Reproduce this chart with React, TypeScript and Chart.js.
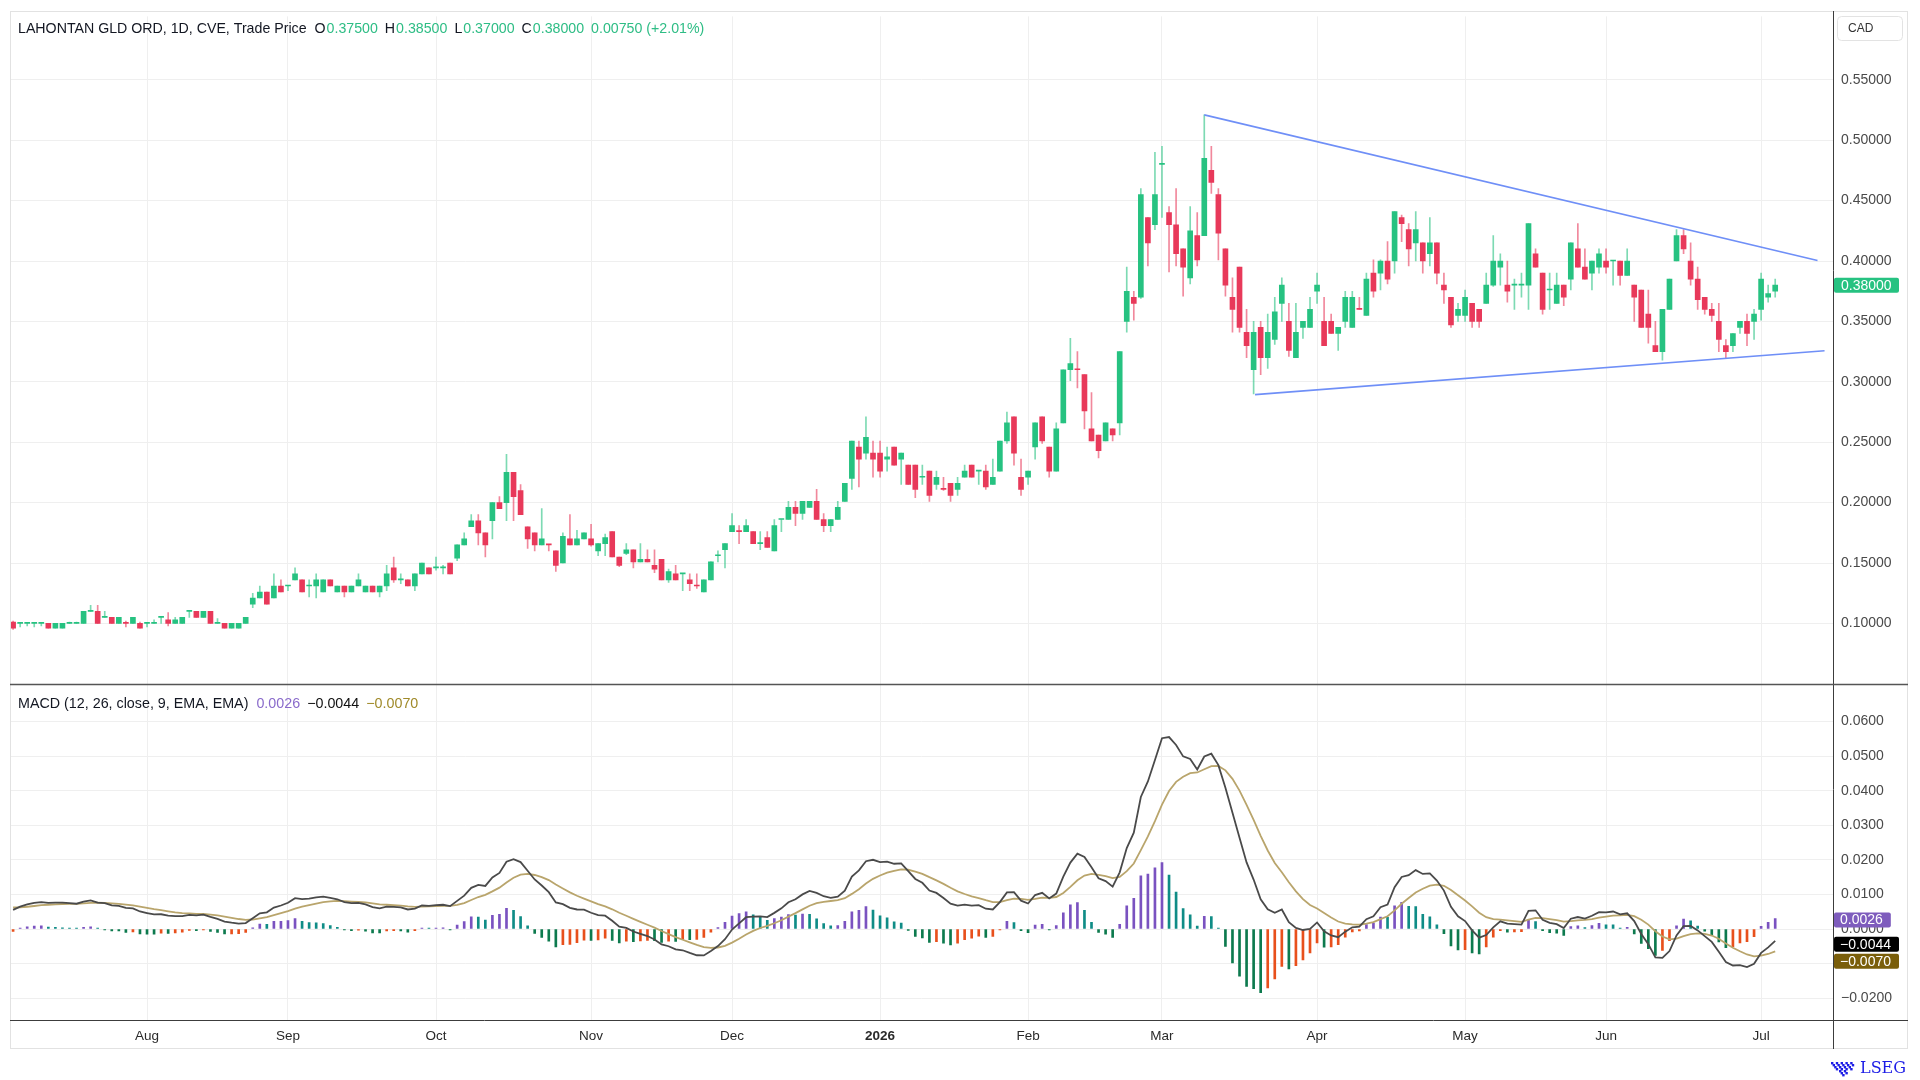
import React, { useEffect, useRef } from 'react';
import { Chart, registerables } from 'chart.js';

Chart.register(...registerables);

// ---------- categories ----------
const FIRST_DAY = '2025-07-07';
const HOLIDAYS = ['2025-08-04', '2025-09-01', '2025-10-13', '2025-12-25', '2025-12-26', '2026-01-01', '2026-02-16', '2026-04-03', '2026-05-18', '2026-07-01'];
const MONTH_LABELS = ['Aug', 'Sep', 'Oct', 'Nov', 'Dec', '2026', 'Feb', 'Mar', 'Apr', 'May', 'Jun', 'Jul'];
const PRICE_TICKS = [0.10, 0.15, 0.20, 0.25, 0.30, 0.35, 0.40, 0.45, 0.50, 0.55];
const MACD_TICKS = [0.06, 0.05, 0.04, 0.03, 0.02, 0.01, 0, -0.01, -0.02];

// ---------- OHLC series (CAD) ----------
const opens = [
  .101, .100, .100, .100, .100, .100, .096, .096, .100, .100, .100, .110, .110, .105, .105, .100, .100, .100, .100,
  .100, .100, .105, .103, .100, .100, .110, .110, .105, .110, .100, .100, .096, .096, .100, .116, .121, .126, .121, .131,
  .131, .136, .136, .131, .131, .126, .136, .126, .131, .126, .131, .126, .131, .126, .131, .146, .136, .136, .131, .141, .146,
  .146, .146, .150, .154, .165, .180, .185, .175, .185, .200, .200, .225, .210, .180, .175, .165, .165, .160, .150, .170, .165, .170,
  .170, .160, .166, .176, .155, .158, .161, .151, .153, .148, .153, .136, .141, .141, .136, .131, .126, .136, .156, .161,
  .176, .176, .176, .176, .166, .171, .160, .186, .186, .196, .191, .196, .201, .186, .181, .186, .201, .220, .246, .241, .241,
  .241, .236, .246, .236, .231, .231, .221, .226, .215, .211, .216, .211, .221, .231, .226, .226, .215, .226, .251, .271, .221,
  .221, .246, .271, .246, .226, .266, .310, .310, .306, .261, .256, .251, .261, .266, .350, .370, .370, .436, .430,
  .480, .440, .430, .410, .386, .421, .421, .475, .455, .410, .370, .395, .341, .310, .345, .320, .335, .365, .350, .320, .345, .345,
  .375, .350, .350, .340, .350, .345, .360, .355, .390, .390, .400, .400, .436, .426, .415, .415, .406, .415, .380, .370, .355,
  .355, .365, .360, .365, .380, .395, .380, .380, .380, .380, .406, .390, .376, .365, .380, .385, .410, .395, .390, .395,
  .400, .400, .400, .388, .380, .376, .356, .330, .325, .360, .400, .421, .400, .385, .370, .360, .350, .330, .330, .345, .350, .350,
  .360, .370, .375,
];
const highs = [
  .102, .100, .100, .100, .100, .100, .100, .100, .101, .101, .110, .115, .115, .110, .105, .105, .102, .105, .101,
  .100, .103, .105, .109, .105, .105, .110, .110, .110, .110, .104, .100, .100, .100, .105, .125, .131, .126, .141, .136,
  .131, .146, .136, .136, .141, .136, .136, .131, .131, .131, .141, .131, .131, .131, .148, .155, .141, .136, .141, .150, .146,
  .155, .148, .150, .165, .175, .190, .190, .175, .200, .205, .240, .225, .215, .180, .175, .195, .165, .160, .175, .190, .177, .175,
  .182, .166, .174, .176, .155, .166, .161, .166, .161, .161, .153, .145, .148, .141, .141, .141, .136, .151, .160, .166,
  .191, .181, .186, .176, .176, .176, .186, .186, .201, .201, .201, .201, .211, .191, .186, .201, .216, .251, .251, .271, .251,
  .251, .246, .246, .241, .231, .231, .231, .226, .226, .221, .216, .221, .231, .231, .226, .231, .236, .251, .275, .271, .236,
  .226, .266, .271, .246, .266, .310, .336, .325, .306, .291, .256, .266, .261, .325, .395, .375, .460, .436, .490,
  .495, .445, .460, .410, .445, .440, .521, .495, .460, .410, .386, .395, .360, .350, .350, .356, .370, .386, .365, .365, .350, .370,
  .390, .370, .356, .345, .375, .375, .370, .390, .401, .401, .416, .441, .438, .431, .441, .415, .436, .415, .390, .370, .365,
  .376, .365, .360, .390, .421, .406, .400, .385, .390, .431, .410, .390, .390, .390, .380, .415, .431, .410, .400, .410,
  .410, .400, .400, .410, .380, .376, .376, .350, .360, .385, .426, .426, .415, .395, .370, .365, .365, .335, .340, .350, .356, .360,
  .390, .380, .385,
];
const lows = [
  .095, .097, .098, .097, .098, .096, .096, .096, .100, .100, .100, .110, .100, .105, .100, .100, .097, .100, .096,
  .097, .100, .100, .098, .100, .100, .105, .105, .105, .100, .100, .096, .096, .096, .100, .113, .121, .116, .121, .126,
  .127, .136, .126, .122, .121, .126, .131, .126, .122, .126, .131, .126, .126, .122, .127, .134, .133, .131, .127, .141, .141,
  .144, .141, .141, .152, .165, .180, .165, .155, .170, .195, .185, .185, .190, .162, .160, .165, .160, .143, .150, .165, .165, .170,
  .164, .156, .156, .155, .147, .157, .146, .151, .151, .142, .136, .134, .136, .127, .127, .129, .126, .136, .151, .146,
  .176, .166, .176, .166, .161, .163, .160, .176, .186, .181, .186, .196, .186, .176, .176, .186, .201, .211, .213, .236, .221,
  .221, .226, .231, .215, .215, .204, .215, .201, .211, .210, .201, .206, .221, .221, .215, .211, .215, .226, .249, .231, .206,
  .215, .236, .249, .221, .226, .266, .301, .295, .261, .251, .237, .251, .251, .256, .341, .351, .369, .396, .426,
  .436, .391, .396, .371, .381, .396, .421, .456, .401, .371, .341, .341, .320, .290, .306, .311, .331, .350, .321, .320, .336, .345,
  .365, .330, .340, .326, .345, .345, .360, .355, .370, .376, .381, .390, .416, .396, .400, .390, .396, .381, .365, .345, .350,
  .350, .345, .345, .365, .379, .380, .366, .360, .370, .360, .395, .356, .360, .365, .363, .376, .395, .385, .376, .390,
  .390, .380, .380, .388, .350, .345, .332, .325, .318, .360, .400, .406, .380, .360, .356, .350, .325, .320, .325, .340, .330, .335,
  .351, .366, .370,
];
const closes = [
  .096, .100, .100, .100, .100, .096, .100, .100, .100, .100, .110, .110, .100, .105, .100, .105, .100, .105, .096,
  .100, .100, .105, .100, .103, .105, .110, .105, .110, .100, .100, .096, .100, .100, .105, .121, .126, .116, .131, .126,
  .131, .141, .126, .131, .136, .136, .131, .131, .126, .131, .136, .131, .126, .131, .141, .136, .136, .131, .141, .150, .141,
  .146, .146, .141, .165, .170, .185, .175, .165, .200, .195, .225, .205, .190, .170, .165, .170, .165, .148, .172, .165, .170, .175,
  .165, .166, .171, .155, .148, .161, .151, .153, .151, .145, .136, .143, .136, .141, .133, .131, .136, .151, .156, .166,
  .181, .176, .181, .166, .166, .163, .181, .186, .196, .191, .201, .201, .186, .181, .186, .196, .216, .251, .236, .254, .236,
  .226, .238, .231, .241, .215, .211, .221, .206, .221, .211, .206, .216, .226, .221, .226, .213, .221, .251, .266, .241, .211,
  .226, .266, .251, .226, .261, .310, .315, .310, .276, .251, .243, .266, .256, .325, .375, .365, .455, .415, .455,
  .480, .430, .406, .395, .425, .401, .485, .465, .423, .380, .360, .345, .330, .341, .320, .341, .358, .380, .326, .341, .350, .360,
  .380, .330, .340, .345, .370, .370, .360, .385, .375, .400, .385, .441, .431, .410, .426, .400, .415, .390, .376, .347, .360,
  .370, .350, .350, .380, .400, .400, .375, .380, .380, .431, .395, .360, .376, .380, .370, .415, .395, .385, .400, .406,
  .395, .400, .388, .400, .370, .345, .345, .325, .360, .385, .421, .410, .385, .368, .360, .355, .335, .325, .340, .350, .340, .356,
  .385, .373, .380,
];

// Drawn trend lines (bar index, price)
const upperTrend = [{ x: 169, y: 0.521 }, { x: 256.0, y: 0.4005 }];
const lowerTrend = [{ x: 176.2, y: 0.2894 }, { x: 257.0, y: 0.3257 }];

// MACD (12, 26, close, 9) with EMA state carried in from before the first visible bar
const MACD_FAST = 12;
const MACD_SLOW = 26;
const MACD_SIGNAL = 9;
const FAST_EMA_SEED = 0.081;
const SLOW_EMA_SEED = 0.0763;
const SIGNAL_SEED = 0.0064;

// Header / legend texts
const HEADER_TITLE = 'LAHONTAN GLD ORD, 1D, CVE, Trade Price';
const OHLC_KEYS = ['O', 'H', 'L', 'C'];
const OHLC_TEXT = ['0.37500', '0.38500', '0.37000', '0.38000'];
const CHANGE_TEXT = '0.00750 (+2.01%)';
const LAST_PRICE = 0.38;
const MACD_TITLE = 'MACD (12, 26, close, 9, EMA, EMA)';
const MACD_LEGEND_VALUES = [0.0026, -0.0044, -0.0070];

// ---------- styling ----------
const FONT = '"Liberation Sans", Arial, Helvetica, sans-serif';
const INK = '#131722';
const AXIS_TXT = '#4a4a4a';
const GRID = '#efefef';
const UP = '#26c281';
const DOWN = '#e8395a';
const UP_WICK = 'rgba(38,194,129,0.6)';
const DOWN_WICK = 'rgba(232,57,90,0.6)';
const HDR_GREEN = '#2ebd85';
const H_PURPLE = '#7a52c0';
const H_TEAL = '#0f8c86';
const H_GREEN = '#0d7a4e';
const H_ORANGE = '#e8501c';
const MACD_COLOR = '#4a4a4a';
const SIGNAL_COLOR = '#b9a56c';
const TREND_COLOR = '#6f8ff7';

const fmtMinus = (v: number, d: number) => (v < 0 ? '\u2212' : '') + Math.abs(v).toFixed(d);

function tradingDays(n: number) {
  const out: string[] = [];
  const d = new Date(FIRST_DAY + 'T00:00:00Z');
  while (out.length < n) {
    const dow = d.getUTCDay();
    const iso = d.toISOString().slice(0, 10);
    if (dow !== 0 && dow !== 6 && HOLIDAYS.indexOf(iso) < 0) out.push(iso);
    d.setUTCDate(d.getUTCDate() + 1);
  }
  return out;
}

function ema(values: number[], period: number, seed: number) {
  const k = 2 / (period + 1);
  let e = seed;
  return values.map((v) => (e = e + k * (v - e)));
}

function buildConfig(): any {
  const n = closes.length;
  const dates = tradingDays(n);
  const monthStarts: number[] = [];
  for (let i = 1; i < n; i++) if (dates[i].slice(0, 7) !== dates[i - 1].slice(0, 7)) monthStarts.push(i);
  const labelAt: Record<number, string> = {};
  monthStarts.forEach((v, k) => (labelAt[v] = MONTH_LABELS[k]));
  const yearTick = monthStarts[MONTH_LABELS.indexOf('2026')];

  const up = closes.map((c, i) => c > opens[i] || (c === opens[i] && (i === 0 || c >= closes[i - 1])));
  const fast = ema(closes, MACD_FAST, FAST_EMA_SEED);
  const slow = ema(closes, MACD_SLOW, SLOW_EMA_SEED);
  const macd = fast.map((f, i) => f - slow[i]);
  const signal = ema(macd, MACD_SIGNAL, SIGNAL_SEED);
  const hist = macd.map((m, i) => m - signal[i]);
  const histColors = hist.map((h, i) => {
    const p = i === 0 ? h : hist[i - 1];
    if (h >= 0) return h >= p ? H_PURPLE : H_TEAL;
    return h < p ? H_GREEN : H_ORANGE;
  });

  const idx = closes.map((_, i) => i);

  const overlay = {
    id: 'overlay',
    afterDraw(chart: any) {
      const ctx = chart.ctx;
      const ys = chart.scales.y;
      const ys2 = chart.scales.y2;
      const L = 10, R = 1908, T = 11, B = 1049, AX = chart.chartArea.right;
      const sep = Math.round(ys.bottom);
      const xb = Math.round(chart.chartArea.bottom);
      ctx.save();
      // outer frame
      ctx.strokeStyle = '#e2e2e2';
      ctx.lineWidth = 1;
      ctx.strokeRect(L + 0.5, T + 0.5, R - L - 1, B - T - 1);
      // dark separators
      ctx.strokeStyle = '#3c3c3c';
      ctx.beginPath();
      ctx.moveTo(Math.round(AX) + 0.5, T); ctx.lineTo(Math.round(AX) + 0.5, B);
      ctx.stroke();
      ctx.lineWidth = 1.5;
      ctx.strokeStyle = '#555';
      ctx.beginPath();
      ctx.moveTo(L, sep + 0.5); ctx.lineTo(R, sep + 0.5);
      ctx.stroke();
      ctx.lineWidth = 1;
      ctx.strokeStyle = '#3c3c3c';
      ctx.beginPath();
      ctx.moveTo(L, xb + 0.5); ctx.lineTo(R, xb + 0.5);
      ctx.stroke();

      ctx.textBaseline = 'middle';
      // header
      ctx.font = `14.2px ${FONT}`;
      let x = 18;
      const hy = 29;
      ctx.fillStyle = INK; ctx.fillText(HEADER_TITLE, x, hy); x += ctx.measureText(HEADER_TITLE).width + 8;
      OHLC_KEYS.forEach((k, i) => {
        ctx.fillStyle = INK; ctx.fillText(k, x, hy); x += ctx.measureText(k).width + 1;
        ctx.fillStyle = HDR_GREEN; ctx.fillText(OHLC_TEXT[i], x, hy); x += ctx.measureText(OHLC_TEXT[i]).width + 7;
      });
      ctx.fillStyle = HDR_GREEN; ctx.fillText(CHANGE_TEXT, x, hy);

      // MACD legend
      ctx.font = `14.3px ${FONT}`;
      const ly = sep + 20;
      x = 18;
      ctx.fillStyle = INK; ctx.fillText(MACD_TITLE, x, ly); x += ctx.measureText(MACD_TITLE).width + 8;
      const legendColors = ['#8a6bcb', '#111', '#a08a2a'];
      MACD_LEGEND_VALUES.forEach((v, i) => {
        const t = fmtMinus(v, 4);
        ctx.fillStyle = legendColors[i]; ctx.fillText(t, x, ly); x += ctx.measureText(t).width + 7;
      });

      // CAD box
      ctx.strokeStyle = '#e3e3e3';
      ctx.fillStyle = '#fff';
      ctx.beginPath();
      ctx.roundRect(AX + 4.5, 16.5, 65, 24, 4);
      ctx.fill(); ctx.stroke();
      ctx.fillStyle = '#333';
      ctx.font = `12px ${FONT}`;
      ctx.fillText('CAD', AX + 15, 29);

      // last price label
      ctx.font = `14px ${FONT}`;
      const py = ys.getPixelForValue(LAST_PRICE);
      ctx.fillStyle = UP;
      ctx.beginPath();
      ctx.roundRect(AX + 1, py - 7.5, 65, 15, 2);
      ctx.fill();
      ctx.fillStyle = '#fff';
      ctx.fillText(OHLC_TEXT[3], AX + 8, py + 0.5);

      // MACD value labels
      const boxColors = ['#7e5cbd', '#000000', '#7a5e0a'];
      let prevY = -1e9;
      MACD_LEGEND_VALUES.forEach((v, i) => {
        let cy = ys2.getPixelForValue(v);
        if (cy < prevY + 17) cy = prevY + 17;
        prevY = cy;
        const t = fmtMinus(v, 4);
        const w = ctx.measureText(t).width + 14;
        ctx.fillStyle = boxColors[i];
        ctx.beginPath();
        ctx.roundRect(AX + 1, cy - 7.5, w, 15, 2);
        ctx.fill();
        ctx.fillStyle = '#fff';
        ctx.fillText(t, AX + 7, cy + 0.5);
      });

      // LSEG mark
      ctx.fillStyle = '#1c1ce6';
      const bx = 1831, by = 1062;
      const cells = [[0,0],[3,0],[6,0],[9,0],[12,0],[1,2],[4,2],[7,2],[10,2],[13,2],[2,4],[5,4],[8,4],[11,4],[3,6],[6,6],[9,6],[12,6],[5,8],[8,8],[6,10],[9,10],[7,12]];
      cells.forEach(([cx, cyy]) => ctx.fillRect(bx + cx * 1.6, by + cyy, 2.4, 2.4));
      ctx.font = `16px "DejaVu Serif", "Liberation Serif", serif`;
      ctx.fillText('LSEG', 1860, 1069);
      ctx.restore();
    },
  };

  return {
    type: 'bar',
    data: {
      datasets: [
        {
          type: 'line', data: upperTrend, yAxisID: 'y', borderColor: TREND_COLOR, borderWidth: 1.6,
          pointRadius: 0, fill: false, order: 0,
        },
        {
          type: 'line', data: lowerTrend, yAxisID: 'y', borderColor: TREND_COLOR, borderWidth: 1.6,
          pointRadius: 0, fill: false, order: 0,
        },
        {
          type: 'bar', data: idx.map((i) => ({ x: i, y: [opens[i], closes[i]] })), yAxisID: 'y',
          backgroundColor: up.map((u) => (u ? UP : DOWN)), barThickness: 5, minBarLength: 1,
          grouped: false, borderWidth: 0, order: 1,
        },
        {
          type: 'bar', data: idx.map((i) => ({ x: i, y: [Math.min(lows[i], opens[i], closes[i]), Math.max(highs[i], opens[i], closes[i])] })),
          yAxisID: 'y', backgroundColor: up.map((u) => (u ? UP_WICK : DOWN_WICK)), barThickness: 1,
          grouped: false, borderWidth: 0, order: 2,
        },
        {
          type: 'line', data: idx.map((i) => ({ x: i, y: macd[i] })), yAxisID: 'y2', borderColor: MACD_COLOR,
          borderWidth: 1.8, pointRadius: 0, fill: false, order: 3,
        },
        {
          type: 'line', data: idx.map((i) => ({ x: i, y: signal[i] })), yAxisID: 'y2', borderColor: SIGNAL_COLOR,
          borderWidth: 1.8, pointRadius: 0, fill: false, order: 4,
        },
        {
          type: 'bar', data: idx.map((i) => ({ x: i, y: hist[i] })), yAxisID: 'y2', backgroundColor: histColors,
          barThickness: 2, minBarLength: 1, grouped: false, borderWidth: 0, order: 5,
        },
      ],
    },
    options: {
      responsive: false,
      animation: false,
      devicePixelRatio: 1,
      events: [],
      layout: { padding: { left: 10, top: 11, right: 12, bottom: 31 }, autoPadding: false },
      plugins: { legend: { display: false }, tooltip: { enabled: false } },
      scales: {
        x: {
          type: 'linear', min: -0.44, max: 258.2, position: 'bottom', offset: false,
          grid: { color: GRID, drawTicks: false, offset: false },
          border: { display: false },
          afterBuildTicks: (s: any) => { s.ticks = monthStarts.map((v) => ({ value: v })); },
          afterFit: (s: any) => { s.height = 29; },
          ticks: {
            autoSkip: false, maxRotation: 0, padding: 8, color: '#2a2a2a',
            callback: (v: any) => labelAt[v] || '',
            font: (c: any) => ({ family: FONT, size: 13.5, weight: c.tick && c.tick.value === yearTick ? 'bold' : 'normal' }),
          },
        },
        y: {
          type: 'linear', position: 'right', stack: 'panes', stackWeight: 671, min: 0.05, max: 0.6025,
          grid: { color: GRID, drawTicks: false },
          border: { display: false },
          afterBuildTicks: (s: any) => { s.ticks = PRICE_TICKS.map((v) => ({ value: v })); },
          afterFit: (s: any) => { s.width = 75; },
          ticks: { padding: 8, color: AXIS_TXT, font: { family: FONT, size: 14 }, callback: (v: any) => Number(v).toFixed(5) },
        },
        y2: {
          type: 'linear', position: 'right', stack: 'panes', stackWeight: 338, min: -0.0263, max: 0.0709,
          grid: { color: GRID, drawTicks: false },
          border: { display: false },
          afterBuildTicks: (s: any) => { s.ticks = MACD_TICKS.map((v) => ({ value: v })); },
          afterFit: (s: any) => { s.width = 75; },
          ticks: { padding: 8, color: AXIS_TXT, font: { family: FONT, size: 14 }, callback: (v: any) => fmtMinus(Math.abs(v) < 1e-9 ? 0 : Number(v), 4) },
        },
      },
    },
    plugins: [overlay],
  };
}

export default function App() {
  const ref = useRef<HTMLCanvasElement>(null);
  useEffect(() => {
    const chart = new Chart(ref.current as HTMLCanvasElement, buildConfig());
    return () => chart.destroy();
  }, []);
  return (
    <div style={{ position: 'fixed', left: 0, top: 0, width: 1920, height: 1080, background: '#fff' }}>
      <canvas ref={ref} width={1920} height={1080} style={{ width: 1920, height: 1080, display: 'block' }} />
    </div>
  );
}
